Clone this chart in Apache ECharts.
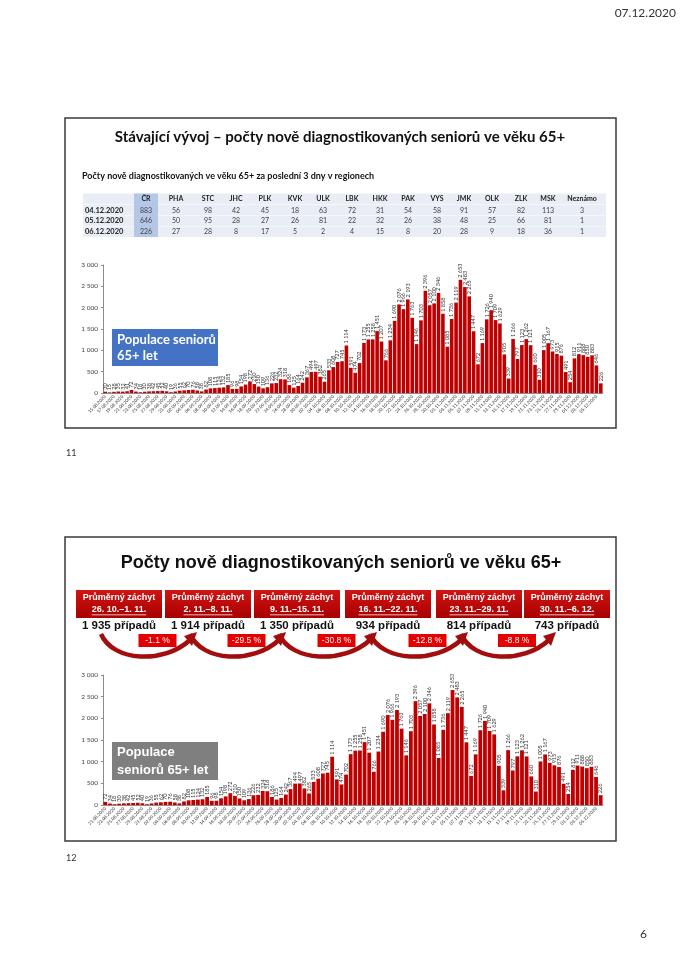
<!DOCTYPE html>
<html><head><meta charset="utf-8">
<script src="https://cdn.jsdelivr.net/npm/echarts@6/dist/echarts.min.js"></script>
<style>html,body{margin:0;padding:0;background:#fff}#c{width:682px;height:965px}</style>
</head><body><div id="c"></div><script>
// Daily new cases 65+ from 15.08.2020 to 06.12.2020
const seniorCases = [
  30, 15, 28, 35, 32, 41, 72, 34, 18, 30, 38, 42, 45, 52, 40, 19, 36,
  55, 62, 70, 76, 58, 38, 82, 108, 115, 124, 132, 185, 96, 98, 154, 198, 272, 210, 150, 109, 136, 226, 232, 324, 318, 186, 125, 164, 242, 367,
  494, 497, 382, 265, 533, 608, 727, 745, 1114, 591, 474, 702, 1173, 1255, 1258, 1451, 1207, 766, 1234, 1690, 2076, 1966, 2193, 1763, 1146, 1703, 2396, 2057, 2100, 2346, 1858,
  1085, 1736, 2119, 2653, 2483, 2265, 1447, 672, 1169, 1726, 1940, 1709, 1629, 905, 339, 1266, 797, 1123, 1262, 1121, 660, 310, 1005, 1167, 973, 915, 876, 491, 254, 812,
  911, 888, 850, 883, 646, 226
];
const firstDay = [2020, 8, 15];        // first category of the upper chart
const lowerChartOffset = 6;             // lower chart starts at 21.08.2020
const regions = ['ČR','PHA','STC','JHC','PLK','KVK','ULK','LBK','HKK','PAK','VYS','JMK','OLK','ZLK','MSK','Neznámo'];
const tableDates = ['04.12.2020','05.12.2020','06.12.2020'];
const row0412 = [883,56,98,42,45,18,63,72,31,54,58,91,57,82,113,3];
const row0512 = [646,50,95,28,27,26,81,22,32,26,38,48,25,66,81,1];
const row0612 = [226,27,28,8,17,5,2,4,15,8,20,28,9,18,36,1];
const weekRanges = ['26. 10.–1. 11.','2. 11.–8. 11.','9. 11.–15. 11.','16. 11.–22. 11.','23. 11.–29. 11.','30. 11.–6. 12.'];
const weekAverages = [1935,1914,1350,934,814,743];
const weekChanges = ['-1.1 %','-29.5 %','-30.8 %','-12.8 %','-8.8 %'];

function fmt(v){ return String(v).replace(/\B(?=(\d{3})+(?!\d))/g,' '); }
function pad(n){ return (n<10?'0':'')+n; }
const categories = seniorCases.map((_, i) => {
  const d = new Date(firstDay[0], firstDay[1]-1, firstDay[2]+i);
  return pad(d.getDate())+'.'+pad(d.getMonth()+1)+'.'+d.getFullYear();
});
const lowerCats = categories.slice(lowerChartOffset);
const lowerVals = seniorCases.slice(lowerChartOffset);

const SANS = 'Lato, "Open Sans", sans-serif';
const ARIAL = '"Liberation Sans", Arial, sans-serif';
const mctx = document.createElement('canvas').getContext('2d');
function tw(text, font){ mctx.font = font; return mctx.measureText(text).width; }

const g = [];
function txt(x,y,text,size,opts){
  opts = opts||{};
  g.push({type:'text', x:x, y:y, z:opts.z||10, style:{text:text, fill:opts.fill||'#222', fontSize:size,
    fontWeight:opts.weight||'normal', fontFamily:opts.family||SANS, align:opts.align||'left', verticalAlign:'middle'}});
}
// page header and frames
txt(676, 13, '07.12.2020', 12, {align:'right', fill:'#333'});
g.push({type:'rect', shape:{x:65,y:118,width:551,height:310}, style:{fill:null, stroke:'#3a3a3a', lineWidth:1.5}});
g.push({type:'rect', shape:{x:65,y:537,width:551,height:304}, style:{fill:null, stroke:'#3a3a3a', lineWidth:1.5}});
txt(66, 453, '11', 9, {fill:'#333'});
txt(66, 858, '12', 9, {fill:'#333'});
txt(647, 934, '6', 12, {align:'right', fill:'#333'});

// slide 1 texts
txt(340, 137, 'Stávající vývoj – počty nově diagnostikovaných seniorů ve věku 65+', 15, {weight:'bold', align:'center', fill:'#111'});
txt(82, 176, 'Počty nově diagnostikovaných ve věku 65+ za poslední 3 dny v regionech', 9, {weight:'bold', fill:'#111'});

// table
const colX = [146,176,208,236,265,295,323,352,380,408,437,464,492,521,548,582];
const rowY = [199, 210.5, 221, 231.5];
g.push({type:'rect', shape:{x:83,y:193.5,width:523,height:43.5}, style:{fill:'#e9edf5'}});
g.push({type:'rect', shape:{x:83,y:204.5,width:523,height:0.6}, style:{fill:'#ffffff'}});
g.push({type:'rect', shape:{x:83,y:215.5,width:523,height:0.6}, style:{fill:'#ffffff'}});
g.push({type:'rect', shape:{x:83,y:226,width:523,height:0.6}, style:{fill:'#ffffff'}});
g.push({type:'rect', shape:{x:134,y:193.5,width:24,height:43.5}, style:{fill:'#b4c7e7'}});
regions.forEach((r,i)=> txt(colX[i], rowY[0], r, 7, {weight:'bold', align:'center', fill:'#222'}));
[row0412,row0512,row0612].forEach((row,ri)=>{
  txt(85, rowY[ri+1], tableDates[ri], 7.5, {weight:'bold', fill:'#222'});
  row.forEach((v,ci)=> txt(colX[ci], rowY[ri+1], String(v), 7, {align:'center', fill:'#444'}));
});

// populace boxes
g.push({type:'rect', z:10, shape:{x:112,y:329,width:106,height:37}, style:{fill:'#4472c4'}});
txt(117, 340, 'Populace seniorů', 13, {weight:'bold', fill:'#fff', z:11});
txt(117, 356, '65+ let', 13, {weight:'bold', fill:'#fff', z:11});
g.push({type:'rect', z:10, shape:{x:112,y:742,width:106,height:38}, style:{fill:'#7f7f7f'}});
txt(117, 752, 'Populace', 13, {weight:'bold', fill:'#fff', family:ARIAL, z:11});
txt(117, 770, 'seniorů 65+ let', 13, {weight:'bold', fill:'#fff', family:ARIAL, z:11});

// slide 2 header
txt(341, 563, 'Počty nově diagnostikovaných seniorů ve věku 65+', 18, {weight:'bold', align:'center', fill:'#111', family:ARIAL});
const boxCx = [119, 208, 297, 388, 479, 567];
boxCx.forEach((cx,i)=>{
  g.push({type:'rect', shape:{x:cx-43,y:590,width:86,height:28},
    style:{fill:new echarts.graphic.LinearGradient(0,0,0,1,[{offset:0,color:'#d01414'},{offset:1,color:'#a80000'}])}});
  txt(cx, 598, 'Průměrný záchyt', 9, {weight:'bold', align:'center', fill:'#fff', family:ARIAL});
  txt(cx, 609.5, weekRanges[i], 9, {weight:'bold', align:'center', fill:'#fff', family:ARIAL});
  const w = tw(weekRanges[i], 'bold 9px '+ARIAL);
  g.push({type:'rect', z:11, shape:{x:cx-w/2,y:614.5,width:w,height:0.8}, style:{fill:'#fff'}});
  txt(cx, 626, fmt(weekAverages[i])+' případů', 11.5, {weight:'bold', align:'center', fill:'#111', family:ARIAL});
});
// arrows
for (let k=0;k<5;k++){
  const x1 = boxCx[k]-18, x2 = boxCx[k+1]-14;
  g.push({type:'bezierCurve', shape:{x1:x1,y1:634,x2:x2-4,y2:640,cpx1:x1+12,cpy1:662,cpx2:x2-30,cpy2:664},
    style:{stroke:'#a30d0d', lineWidth:4.5, fill:null}});
  g.push({type:'polygon', shape:{points:[[x2+3,632],[x2-10,636],[x2-2,646]]}, style:{fill:'#a30d0d'}});
  const lc = (boxCx[k]+boxCx[k+1])/2 - 6;
  g.push({type:'rect', z:12, shape:{x:lc-19,y:634,width:38,height:13}, style:{fill:'#e40000'}});
  txt(lc, 640.5, weekChanges[k], 8.5, {align:'center', fill:'#fff', family:ARIAL, z:14});
}

const axisCommon = {
  axisLine:{show:true, lineStyle:{color:'#8c8c8c', width:1}},
  axisTick:{show:false}
};
function xAxisDef(cats, idx){
  return Object.assign({type:'category', data:cats, gridIndex:idx,
    axisLabel:{rotate:45, interval:1, fontSize:4.5, color:'#333', margin:3, fontFamily:SANS}}, axisCommon);
}
function yAxisDef(idx){
  return {type:'value', gridIndex:idx, min:0, max:3000, interval:500,
    axisLine:{show:true, lineStyle:{color:'#8c8c8c'}}, axisTick:{show:true, length:2, lineStyle:{color:'#8c8c8c'}},
    splitLine:{show:false},
    axisLabel:{fontSize:6.5, color:'#444', margin:5, formatter:v=>fmt(v), fontFamily:SANS}};
}
function barDef(vals, idx){
  return {type:'bar', xAxisIndex:idx, yAxisIndex:idx, data:vals, barCategoryGap:'18%',
    itemStyle:{color:'#c00000'},
    label:{show:true, position:'top', rotate:90, align:'left', verticalAlign:'middle', distance:2,
      fontSize:5.5, color:'#333', fontFamily:SANS, formatter:p=>fmt(p.value)}};
}

const chart = echarts.init(document.getElementById('c'), null, {renderer:'canvas'});
chart.setOption({
  animation:false,
  backgroundColor:'#ffffff',
  grid:[{left:103, top:265, width:500, height:128}, {left:103, top:675, width:500, height:130}],
  xAxis:[xAxisDef(categories,0), xAxisDef(lowerCats,1)],
  yAxis:[yAxisDef(0), yAxisDef(1)],
  series:[barDef(seniorCases,0), barDef(lowerVals,1)],
  graphic:{elements:g}
});
</script></body></html>
